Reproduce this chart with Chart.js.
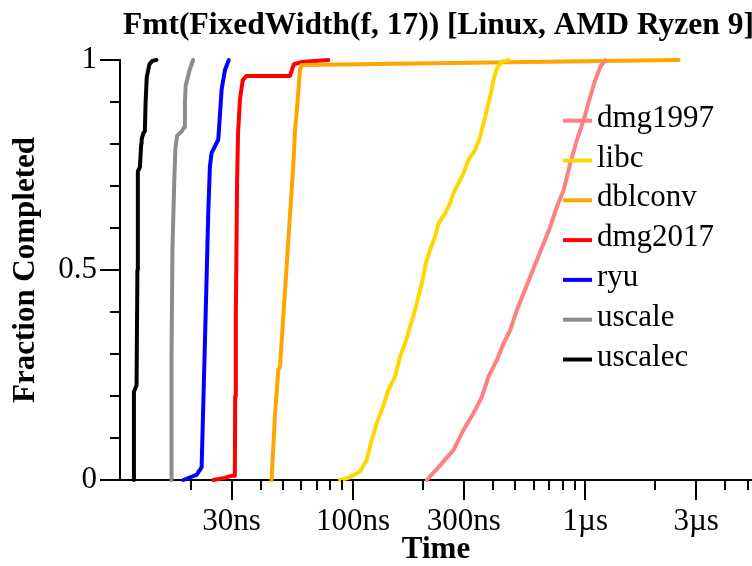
<!DOCTYPE html>
<html><head><meta charset="utf-8">
<script src="https://cdn.jsdelivr.net/npm/chart.js@4"></script>
<style>html,body{margin:0;padding:0;background:#fff;overflow:hidden}</style>
</head><body>
<canvas id="c" width="752" height="566"></canvas>
<script>
// ---- data (time in ns, fraction completed) ----
const seriesNames = ['dmg1997', 'libc', 'dblconv', 'dmg2017', 'ryu', 'uscale', 'uscalec'];
const seriesColors = ['#FF8080', '#FFD700', '#FFA500', '#FF0000', '#0000FF', '#8C8C8C', '#000000'];

const dmg1997T = [207.8, 237.1, 270.6, 298.8, 330.1, 358.7, 383.1, 416.4, 444.5, 475.1, 507.6, 542.1, 579.4, 619.1, 661.2, 706.7, 755.1, 806.4, 861.6, 920.9, 983.3, 1051, 1104, 1161, 1220];
const dmg1997F = [0, 0.035, 0.071, 0.119, 0.159, 0.198, 0.246, 0.286, 0.325, 0.357, 0.405, 0.444, 0.484, 0.524, 0.563, 0.603, 0.651, 0.690, 0.754, 0.810, 0.857, 0.913, 0.952, 0.984, 1.0];

const libcT = [88, 95.4, 107.2, 114.6, 120.4, 126.5, 133.0, 142.0, 151.7, 159.5, 167.5, 176.1, 185.0, 194.5, 200.9, 205.8, 214.7, 225.6, 233.2, 249.3, 261.9, 270.6, 284.4, 298.8, 314.0, 335.7, 352.7, 370.7, 389.5, 402.5, 416.4, 437.5, 467.0];
const libcF = [0, 0.005, 0.02, 0.048, 0.095, 0.135, 0.167, 0.214, 0.246, 0.294, 0.325, 0.365, 0.405, 0.452, 0.484, 0.516, 0.548, 0.579, 0.611, 0.635, 0.659, 0.683, 0.706, 0.730, 0.762, 0.786, 0.817, 0.865, 0.913, 0.952, 0.980, 0.996, 1.0];

const dblconvT = [44.6, 46.1, 47.7, 48.5, 50.1, 51.8, 53.5, 55.3, 56.2, 57.8, 59.1, 60.1, 2520];
const dblconvF = [0, 0.15, 0.262, 0.27, 0.389, 0.508, 0.627, 0.746, 0.825, 0.905, 0.976, 0.988, 1.0];

const dmg2017T = [25.0, 28.0, 30.0, 31.0, 31.1, 31.3, 31.7, 32.0, 32.6, 33.5, 34.8, 53.5, 55.7, 60.0, 78.3];
const dmg2017F = [0, 0.005, 0.01, 0.01, 0.2, 0.39, 0.71, 0.825, 0.905, 0.952, 0.962, 0.962, 0.99, 0.995, 1.0];

const ryuT = [18.6, 21.2, 22.3, 22.6, 23.0, 23.4, 23.8, 24.2, 24.6, 25.4, 26.3, 27.2, 28.1, 29.2];
const ryuF = [0, 0.012, 0.03, 0.15, 0.31, 0.47, 0.63, 0.745, 0.778, 0.794, 0.81, 0.93, 0.976, 1.0];

const uscaleT = [16.5, 16.55, 16.7, 17.0, 17.2, 17.5, 18.3, 18.75, 18.9, 19.05, 19.8, 20.5];
const uscaleF = [0, 0.3, 0.55, 0.71, 0.79, 0.82, 0.83, 0.84, 0.9, 0.94, 0.976, 1.0];

const uscalecT = [11.4, 11.4, 11.7, 11.8, 11.85, 12.1, 12.25, 12.3, 12.5, 12.7, 12.8, 12.95, 13.3, 13.7, 14.25];
const uscalecF = [0, 0.21, 0.225, 0.5, 0.735, 0.745, 0.80, 0.81, 0.825, 0.83, 0.9, 0.96, 0.99, 0.998, 1.0];

// ---- ticks ----
const xMajorTicks = [30, 100, 300, 1000, 3000];
const xMajorLabels = ['30ns', '100ns', '300ns', '1µs', '3µs'];
const xMinorTicks = [20, 40, 50, 60, 70, 80, 90, 200, 400, 500, 600, 700, 800, 900, 2000, 4000, 5000];
const yMajorTicks = [0, 0.5, 1];
const yMajorLabels = ['0', '0.5', '1'];
const yMinorTicks = [0.1, 0.2, 0.3, 0.4, 0.6, 0.7, 0.8, 0.9];

const titleText = 'Fmt(FixedWidth(f, 17)) [Linux, AMD Ryzen 9]';
const xTitle = 'Time';
const yTitle = 'Fraction Completed';

const seriesT = [dmg1997T, libcT, dblconvT, dmg2017T, ryuT, uscaleT, uscalecT];
const seriesF = [dmg1997F, libcF, dblconvF, dmg2017F, ryuF, uscaleF, uscalecF];

const FONT = '"Liberation Serif", "Times New Roman", serif';

const datasets = seriesNames.map((name, i) => ({
  label: name,
  data: seriesT[i].map((t, j) => ({x: t, y: seriesF[i][j]})),
  borderColor: seriesColors[i],
  backgroundColor: seriesColors[i],
  borderWidth: 4,
  pointRadius: 0,
  tension: 0,
  fill: false,
  clip: false,
  borderJoinStyle: 'round',
  borderCapStyle: 'round'
}));

const tickMarks = {
  id: 'tickMarks',
  afterDraw(chart) {
    const {ctx, chartArea, scales: {x, y}} = chart;
    ctx.save();
    ctx.strokeStyle = '#000';
    ctx.lineWidth = 2;
    ctx.beginPath();
    xMajorTicks.concat(xMinorTicks).forEach(v => {
      const px = Math.round(x.getPixelForValue(v));
      const len = xMajorTicks.includes(v) ? 20 : 10;
      ctx.moveTo(px, chartArea.bottom);
      ctx.lineTo(px, chartArea.bottom + len);
    });
    yMajorTicks.concat(yMinorTicks).forEach(v => {
      const py = Math.round(y.getPixelForValue(v));
      const len = yMajorTicks.includes(v) ? 20 : 10;
      ctx.moveTo(chartArea.left, py);
      ctx.lineTo(chartArea.left - len, py);
    });
    ctx.stroke();
    ctx.restore();
  }
};

const titleAndLegend = {
  id: 'titleAndLegend',
  afterDraw(chart) {
    const ctx = chart.ctx;
    ctx.save();
    ctx.fillStyle = '#000';
    ctx.font = 'bold 31.5px ' + FONT;
    ctx.textAlign = 'left';
    ctx.textBaseline = 'alphabetic';
    ctx.fillText(titleText, 123, 34);
    chart.data.datasets.forEach((ds, i) => {
      const yy = 120.7 + i * 39.8;
      ctx.strokeStyle = ds.borderColor;
      ctx.lineWidth = 4;
      ctx.beginPath();
      ctx.moveTo(563, yy);
      ctx.lineTo(592, yy);
      ctx.stroke();
      ctx.fillStyle = '#000';
      ctx.font = '31px ' + FONT;
      ctx.fillText(ds.label, 597, yy + 6);
    });
    ctx.restore();
  }
};

new Chart(document.getElementById('c'), {
  type: 'line',
  data: {datasets},
  options: {
    responsive: false,
    animation: false,
    layout: {padding: {top: 60, right: 0, bottom: 0, left: 0}},
    plugins: {legend: {display: false}, title: {display: false}, tooltip: {enabled: false}},
    scales: {
      x: {
        type: 'logarithmic',
        min: 9.93,
        max: 5220,
        afterFit: s => { s.height = 86; },
        afterBuildTicks: s => { s.ticks = xMajorTicks.map(v => ({value: v})); },
        ticks: {
          autoSkip: false, maxRotation: 0, padding: 23, color: '#000',
          font: {family: FONT, size: 31},
          callback: (v, i) => xMajorLabels[i]
        },
        grid: {display: true, drawOnChartArea: false, drawTicks: false},
        border: {display: true, color: '#000', width: 2},
        title: {display: true, text: xTitle, color: '#000', font: {family: FONT, size: 31, weight: 'bold', lineHeight: 1}, padding: {top: 0, bottom: 1}}
      },
      y: {
        type: 'linear',
        min: 0,
        max: 1,
        afterFit: s => { s.width = 120; },
        afterBuildTicks: s => { s.ticks = yMajorTicks.map(v => ({value: v})); },
        ticks: {
          autoSkip: false, padding: 23, color: '#000',
          font: {family: FONT, size: 31},
          callback: (v, i) => yMajorLabels[i]
        },
        grid: {display: true, drawOnChartArea: false, drawTicks: false},
        border: {display: true, color: '#000', width: 2},
        title: {display: true, text: yTitle, color: '#000', font: {family: FONT, size: 31, weight: 'bold', lineHeight: 1}, padding: {top: 10, bottom: 0}}
      }
    }
  },
  plugins: [tickMarks, titleAndLegend]
});
</script>
</body></html>
